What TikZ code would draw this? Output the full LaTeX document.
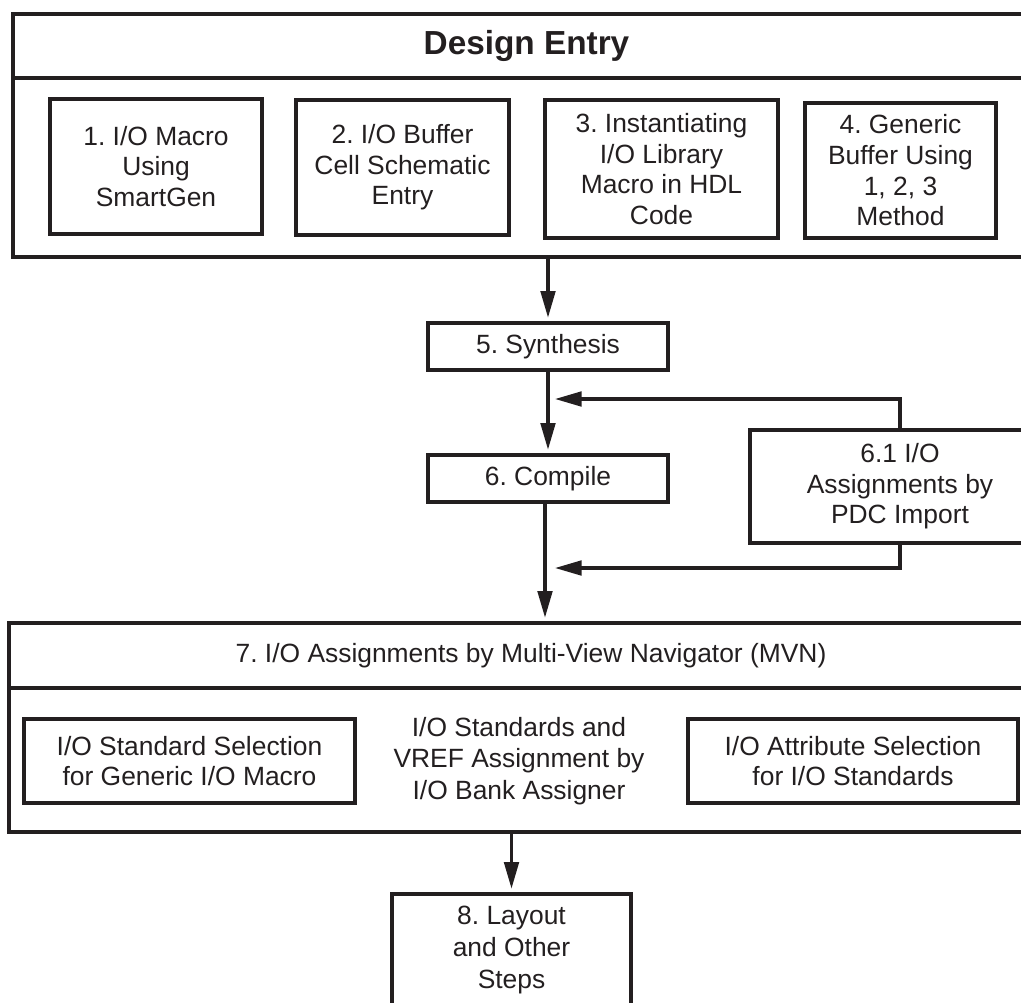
\documentclass[tikz,border=0pt]{standalone}
\usepackage{fontspec}
\setmainfont{Liberation Sans}
\usetikzlibrary{arrows.meta}
\definecolor{ink}{HTML}{231F20}
\begin{document}
\frenchspacing
\begin{tikzpicture}[x=0.75pt,y=-0.75pt,
  every node/.style={inner sep=0pt, outer sep=0pt},
  box/.style={draw=ink, line width=2.3pt, rectangle, align=center, text=ink,
    font=\fontsize{19.8}{23}\selectfont},
  plain/.style={align=center, text=ink, font=\fontsize{19.8}{23.5}\selectfont},
  conn/.style={draw=ink, line width=2.3pt},
  arr/.style={conn, -{Triangle[length=20pt,width=11pt]}, shorten >=4pt},
  arrj/.style={conn, -{Triangle[length=20pt,width=11pt]}}
]
\useasboundingbox (0,0) rectangle (1021,1003);
\clip (0,0) rectangle (1021,1003);

% Design Entry group
\node[box, minimum width=770.25pt, minimum height=48pt,
  font=\fontsize{25}{30}\selectfont\bfseries] (detitle) at (526.5,46) {Design Entry};
\node[box, minimum width=770.25pt, minimum height=134.25pt] (debody) at (526.5,167.5) {};
\node[box, minimum width=159pt, minimum height=101.25pt] (b1) at (156,166.5) {1. I/O Macro\\Using\\SmartGen};
\node[box, minimum width=159.75pt, minimum height=101.25pt] (b2) at (402.5,167.5) {2. I/O Buffer\\Cell Schematic\\Entry};
\node[box, minimum width=174.75pt, minimum height=103.5pt] (b3) at (661.5,169) {3. Instantiating\\I/O Library\\Macro in HDL\\Code};
\node[box, minimum width=143.25pt, minimum height=101.25pt] (b4) at (900.5,170.5) {4. Generic\\Buffer Using\\1, 2, 3\\Method};

% Middle steps
\node[box, minimum width=180pt, minimum height=35.25pt] (syn) at (548,346.5) {5. Synthesis};
\node[box, minimum width=180pt, minimum height=35.25pt] (comp) at (548,478.5) {6. Compile};
\node[box, minimum width=225pt, minimum height=84.75pt] (pdc) at (900,486.5) {6.1 I/O\\Assignments by\\PDC Import};
\coordinate (j1) at (555,399);
\coordinate (j2) at (555,568);

% MVN group
\node[box, minimum width=783pt, minimum height=48.75pt] (mvnt) at (531,655.5) {7. I/O Assignments by Multi-View Navigator (MVN)};
\node[box, minimum width=783pt, minimum height=108pt] (mvnb) at (531,760) {};
\node[box, minimum width=248.25pt, minimum height=63pt] (std) at (189.5,761) {I/O Standard Selection\\for Generic I/O Macro};
\node[plain] (bank) at (519,761) {I/O Standards and\\VREF Assignment by\\I/O Bank Assigner};
\node[box, minimum width=247.5pt, minimum height=63pt] (attr) at (853,761) {I/O Attribute Selection\\for I/O Standards};

% Step 8
\node[box, minimum width=179.25pt, minimum height=84pt, font=\fontsize{19.8}{24}\selectfont] (lay) at (511.5,950) {8. Layout\\and Other\\Steps};

% Connectors
\draw[arr] (syn.north |- debody.south) -- (syn.north);
\draw[arr] (syn.south) -- (comp.north);
\draw[arr] ([xshift=-2.25pt]comp.south) -- ([xshift=-2.25pt]comp.south |- mvnt.north);
\draw[arrj] (pdc.north) |- (j1);
\draw[arrj] (pdc.south) |- (j2);
\draw[arr] (lay.north |- mvnb.south) -- (lay.north);
\end{tikzpicture}
\end{document}
